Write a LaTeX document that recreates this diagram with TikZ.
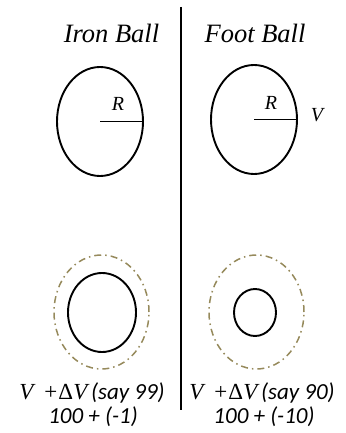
\documentclass[tikz,border=0pt]{standalone}
\usepackage{fontspec}
\usetikzlibrary{shapes.geometric}
\setmainfont{Liberation Serif}
\newfontfamily\carl{Carlito}
\definecolor{olivedash}{RGB}{150,138,92}
\tikzset{
  ball/.style={draw=black, line width=1.9pt},
  halo/.style={draw=olivedash, line width=1.5pt, dash pattern=on 7pt off 4pt on 1.5pt off 4pt},
  title/.style={font=\fontsize{26.5}{30}\selectfont\itshape, inner sep=0pt},
  lab/.style={font=\fontsize{20}{23}\selectfont\itshape, inner sep=0pt},
  captxt/.style={font=\fontsize{23}{26}\selectfont, inner sep=0pt}
}
\begin{document}
\begin{tikzpicture}[x=1pt,y=-1pt]
\useasboundingbox (0,0) rectangle (345,433);
% divider
\coordinate (dtop) at (181,7);
\coordinate (dbot) at (181,410);
\draw[line width=2.1pt] (dtop) -- (dbot);
% titles
\node[title] (t1) at (111.5,33) {Iron Ball};
\node[title] (t2) at (255,33) {Foot Ball};
% top balls
\node[ball, ellipse, minimum width=86pt, minimum height=109pt, inner sep=0pt] (b1) at (100,121.5) {};
\draw[line width=1.9pt] (b1.center) -- (b1.east);
\node[lab] (r1) at (118,104) {R};
\node[ball, ellipse, minimum width=86pt, minimum height=109pt, inner sep=0pt] (b2) at (254,119.5) {};
\draw[line width=1.9pt] (b2.center) -- (b2.east);
\node[lab] (r2) at (271,103) {R};
\node[lab] (v) at (317,115) {V};
% bottom balls
\node[halo, ellipse, minimum width=95pt, minimum height=114pt, inner sep=0pt] (h1) at (101.5,312) {};
\node[ball, ellipse, minimum width=68pt, minimum height=79pt, inner sep=0pt] (s1) at (102,312.5) {};
\node[halo, ellipse, minimum width=95pt, minimum height=114pt, inner sep=0pt] (h2) at (256.5,312) {};
\node[ball, ellipse, minimum width=42pt, minimum height=47pt, inner sep=0pt] (s2) at (255,312.5) {};
% captions
\node[captxt] (c1) at (92,393) {\itshape V\ \,+\upshape Δ\itshape V\,{\carl\itshape (say 99)}};
\node[captxt] (c2) at (93,417) {\carl\itshape 100 + (-1)};
\node[captxt] (c3) at (262,393) {\itshape V\ \,+\upshape Δ\itshape V\,{\carl\itshape (say 90)}};
\node[captxt] (c4) at (264,417) {\carl\itshape 100 + (-10)};
\end{tikzpicture}
\end{document}
